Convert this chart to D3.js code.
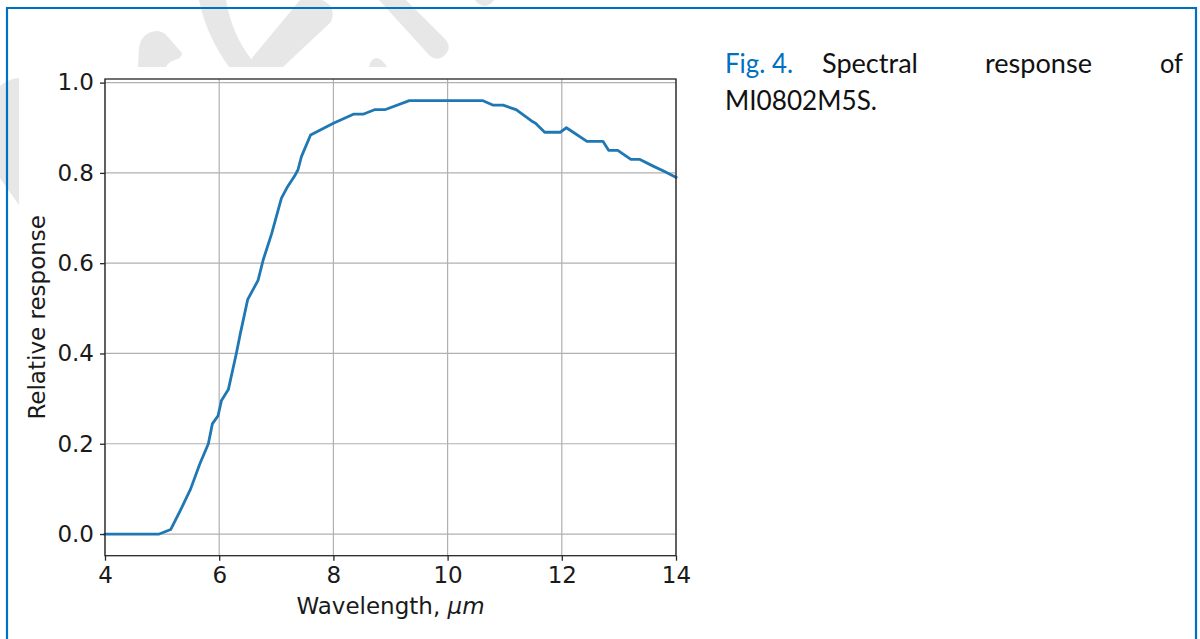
<!DOCTYPE html>
<html>
<head>
<meta charset="utf-8">
<script src="https://cdn.jsdelivr.net/npm/d3@7"></script>
<style>
  html, body { margin: 0; padding: 0; background: #fff; }
  svg { display: block; }
</style>
</head>
<body>
<svg id="chart" width="1200" height="639"></svg>
<script>
// ---- data ----
const wavelength = [4.0, 4.95, 5.15, 5.35, 5.5, 5.66, 5.81, 5.88, 5.98, 6.04, 6.16, 6.3, 6.37, 6.5, 6.68, 6.77, 6.92, 7.09, 7.2, 7.32, 7.38, 7.44, 7.6, 8.0, 8.35, 8.52, 8.72, 8.9, 9.33, 10.62, 10.8, 10.97, 11.2, 11.47, 11.54, 11.7, 11.97, 12.08, 12.2, 12.44, 12.72, 12.82, 12.98, 13.21, 13.36, 13.6, 13.8, 14.0];
const response   = [0.0, 0.0, 0.01, 0.06, 0.10, 0.155, 0.20, 0.244, 0.262, 0.296, 0.32, 0.40, 0.444, 0.52, 0.562, 0.607, 0.666, 0.744, 0.77, 0.793, 0.807, 0.836, 0.884, 0.91, 0.93, 0.93, 0.94, 0.94, 0.96, 0.96, 0.95, 0.95, 0.94, 0.915, 0.91, 0.89, 0.89, 0.90, 0.89, 0.87, 0.87, 0.85, 0.85, 0.83, 0.83, 0.815, 0.803, 0.79];
const xTicks = [4, 6, 8, 10, 12, 14];
const yTicks = [0.0, 0.2, 0.4, 0.6, 0.8, 1.0];
const xLabel = "Wavelength, ";
const xLabelUnit = "μm";
const yLabel = "Relative response";
const captionFig = "Fig. 4.";
const captionWords = ["Spectral", "response", "of"];
const captionLine2 = "MI0802M5S.";

const svg = d3.select("#chart");

// ---- watermark (decorative background logo fragments) ----
const wm = svg.append("g").attr("fill", "#e7e7e7");
[
  "M138,67 L139,48 Q141,33 156,31 Q163,31 167,36 L182,53 Q182,58 175,60 Q168,62 166,67 Z",
  "M199,0 L226,0 Q232,35 252,60 L252,67 L229,67 Q206,35 199,0 Z",
  "M252,58 L300,0 L322,0 Q337,6 331,22 L283,67 L252,67 Z",
  "M379,0 L406,0 L446,40 Q452,48 445,55 Q438,62 430,56 Z",
  "M475,0 L494,0 Q490,6 484,6 Q478,5 475,0 Z",
  "M369,67 Q371,58 377,58 Q383,60 387,67 Z",
  "M0,86 Q10,78 19,78 L19,205 L0,178 Z"
].forEach(d => wm.append("path").attr("d", d));

// ---- frame border ----
svg.append("path")
  .attr("d", "M7,645 V8 H1196 V645")
  .attr("fill", "none")
  .attr("stroke", "#0070C0")
  .attr("stroke-width", 2.2);

// ---- chart ----
const L = 105, R = 676, T = 79, B = 555.7;
const x = d3.scaleLinear().domain([4, 14]).range([L, R]);
const y = d3.scaleLinear().domain([-0.048, 1.008]).range([B, T]);
const fontAx = "DejaVu Sans, sans-serif";
const fs = 23;

const g = svg.append("g");
g.append("rect").attr("x", L).attr("y", T).attr("width", R - L).attr("height", B - T).attr("fill", "#fff");

// grid
g.append("g").selectAll("line").data(xTicks).join("line")
  .attr("x1", d => x(d)).attr("x2", d => x(d)).attr("y1", T).attr("y2", B)
  .attr("stroke", "#b0b0b0").attr("stroke-width", 1.2);
g.append("g").selectAll("line").data(yTicks).join("line")
  .attr("x1", L).attr("x2", R).attr("y1", d => y(d)).attr("y2", d => y(d))
  .attr("stroke", "#b0b0b0").attr("stroke-width", 1.2);

// line
const line = d3.line().x((d, i) => x(wavelength[i])).y(d => y(d));
g.append("path").datum(response)
  .attr("d", line)
  .attr("fill", "none")
  .attr("stroke", "#1f77b4")
  .attr("stroke-width", 2.8)
  .attr("stroke-linejoin", "round")
  .attr("stroke-linecap", "square");

// spines
g.append("rect").attr("x", L).attr("y", T).attr("width", R - L).attr("height", B - T)
  .attr("fill", "none").attr("stroke", "#262626").attr("stroke-width", 1.3);

// axes
const xAxis = g.append("g").attr("transform", `translate(0,${B})`)
  .call(d3.axisBottom(x).tickValues(xTicks).tickSize(5).tickPadding(6).tickFormat(d3.format("d")));
const yAxis = g.append("g").attr("transform", `translate(${L},0)`)
  .call(d3.axisLeft(y).tickValues(yTicks).tickSize(5).tickPadding(6).tickFormat(d3.format(".1f")));
[xAxis, yAxis].forEach(a => {
  a.select(".domain").remove();
  a.selectAll(".tick line").attr("stroke", "#262626").attr("stroke-width", 1.3);
  a.selectAll(".tick text").attr("fill", "#1a1a1a").style("font-family", fontAx).style("font-size", fs + "px");
});

// axis labels
const xl = g.append("text")
  .attr("x", (L + R) / 2).attr("y", 614)
  .attr("text-anchor", "middle")
  .attr("fill", "#1a1a1a")
  .style("font-family", fontAx).style("font-size", fs + "px");
xl.append("tspan").text(xLabel);
xl.append("tspan").style("font-style", "italic").text(xLabelUnit);

g.append("text")
  .attr("transform", `translate(37,${(T + B) / 2}) rotate(-90)`)
  .attr("text-anchor", "middle")
  .attr("dy", "0.36em")
  .attr("fill", "#1a1a1a")
  .style("font-family", fontAx).style("font-size", fs + "px")
  .text(yLabel);

// ---- caption ----
const capFont = "Lato, 'Open Sans', sans-serif";
const capFs = 26;
const cap = svg.append("g").style("font-family", capFont).style("font-size", capFs + "px");
cap.append("text").attr("x", 725).attr("y", 73).attr("fill", "#0070C0")
  .attr("textLength", 68).attr("lengthAdjust", "spacingAndGlyphs").text(captionFig);
const wordX = [[822, 96], [985, 107], [1160, 23]];
captionWords.forEach((w, i) => {
  cap.append("text").attr("x", wordX[i][0]).attr("y", 73).attr("fill", "#111")
    .attr("textLength", wordX[i][1]).attr("lengthAdjust", "spacingAndGlyphs").text(w);
});
cap.append("text").attr("x", 725).attr("y", 110).attr("fill", "#111")
  .attr("textLength", 152).attr("lengthAdjust", "spacingAndGlyphs").text(captionLine2);
</script>
</body>
</html>
